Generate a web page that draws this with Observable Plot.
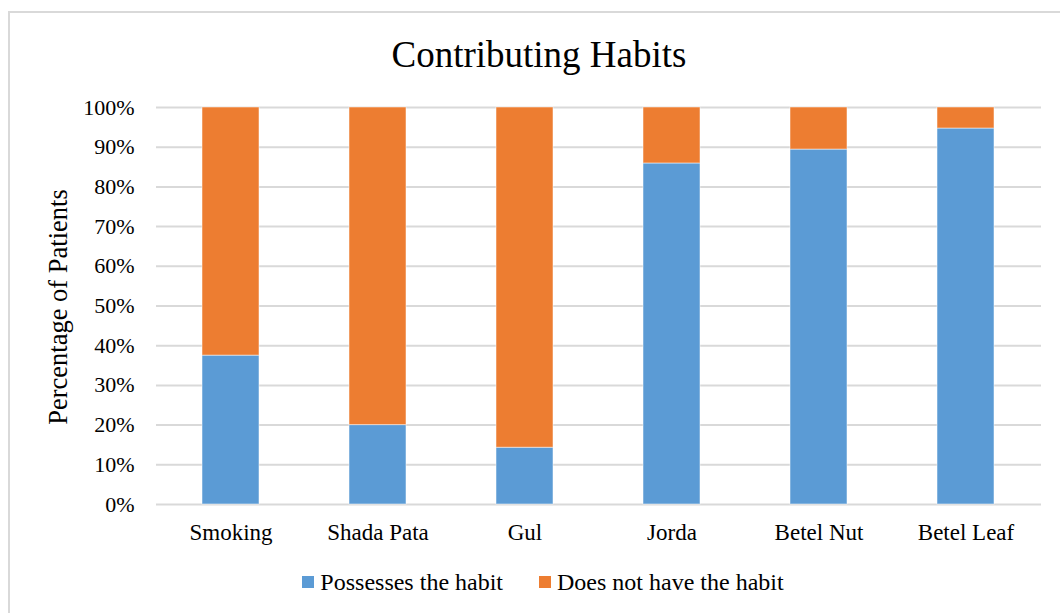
<!DOCTYPE html>
<html>
<head>
<meta charset="utf-8">
<script src="https://cdn.jsdelivr.net/npm/d3@7"></script>
<script src="https://cdn.jsdelivr.net/npm/@observablehq/plot@0.6"></script>
<style>
  html, body { margin: 0; padding: 0; background: #fff; overflow: hidden; }
  body { width: 1060px; height: 613px; position: relative; font-family: "Liberation Serif", "Times New Roman", serif; color: #000; }
  #frame { position: absolute; left: 8px; top: 11px; width: 1100px; height: 700px; border-left: 2px solid #d9d9d9; border-top: 2px solid #d9d9d9; box-sizing: border-box; }
  #title { position: absolute; top: 30px; left: 339px; width: 400px; text-align: center; font-size: 37px; line-height: 50px; }
  #ylabel { position: absolute; left: 58px; top: 307px; transform: translate(-50%, -50%) rotate(-90deg); white-space: nowrap; font-size: 26.5px; }
  #chart { position: absolute; left: 0; top: 0; }
  #legend { position: absolute; top: 568px; left: 0; width: 1086px; display: flex; justify-content: center; align-items: center; font-family: "Liberation Serif", "Times New Roman", serif; font-size: 24px; line-height: 28px; }
  .item { display: flex; align-items: center; margin: 0 18px; }
  .sw { width: 12px; height: 12px; margin-right: 6px; }
</style>
</head>
<body>
<div id="frame"></div>
<div id="title">Contributing Habits</div>
<div id="chart"></div>
<div id="ylabel">Percentage of Patients</div>
<div id="legend"></div>
<script>
// Share of patients per habit (percent)
const habits = ["Smoking", "Shada Pata", "Gul", "Jorda", "Betel Nut", "Betel Leaf"];
const possesses = [37.5, 20, 14.3, 85.9, 89.4, 94.7];
const doesNot = [62.5, 80, 85.7, 14.1, 10.6, 5.3];
const seriesNames = ["Possesses the habit", "Does not have the habit"];
const seriesColors = ["#5B9BD5", "#ED7D31"];
const yTicks = [0, 10, 20, 30, 40, 50, 60, 70, 80, 90, 100];

const rows = [];
habits.forEach((h, i) => {
  rows.push({habit: h, series: seriesNames[0], value: possesses[i]});
  rows.push({habit: h, series: seriesNames[1], value: doesNot[i]});
});

const chart = Plot.plot({
  width: 1060,
  height: 560,
  marginTop: 107,
  marginBottom: 56,
  marginLeft: 156,
  marginRight: 19,
  style: {fontFamily: '"Liberation Serif", "Times New Roman", serif', fontSize: "22px", color: "#000", background: "transparent"},
  x: {domain: habits, paddingInner: 0.61, paddingOuter: 0.305, label: null},
  y: {domain: [0, 100], label: null},
  color: {domain: seriesNames, range: seriesColors},
  marks: [
    Plot.ruleY(yTicks, {stroke: "#d9d9d9", strokeWidth: 2}),
    Plot.barY(rows, {
      x: "habit", y: "value", fill: "series",
      stroke: "#ffffff", strokeWidth: 1, strokeOpacity: 0.5,
      inset: 0
    }),
    Plot.axisY({ticks: yTicks, tickSize: 0, tickPadding: 22, tickFormat: d => d + "%", label: null, fontSize: 22}),
    Plot.axisX({tickSize: 0, tickPadding: 19, label: null, fontSize: 23})
  ]
});
document.getElementById("chart").appendChild(chart);

const legend = document.getElementById("legend");
seriesNames.forEach((name, i) => {
  const item = document.createElement("div");
  item.className = "item";
  const sw = document.createElement("div");
  sw.className = "sw";
  sw.style.background = seriesColors[i];
  const label = document.createElement("span");
  label.textContent = name;
  item.appendChild(sw);
  item.appendChild(label);
  legend.appendChild(item);
});
</script>
</body>
</html>
